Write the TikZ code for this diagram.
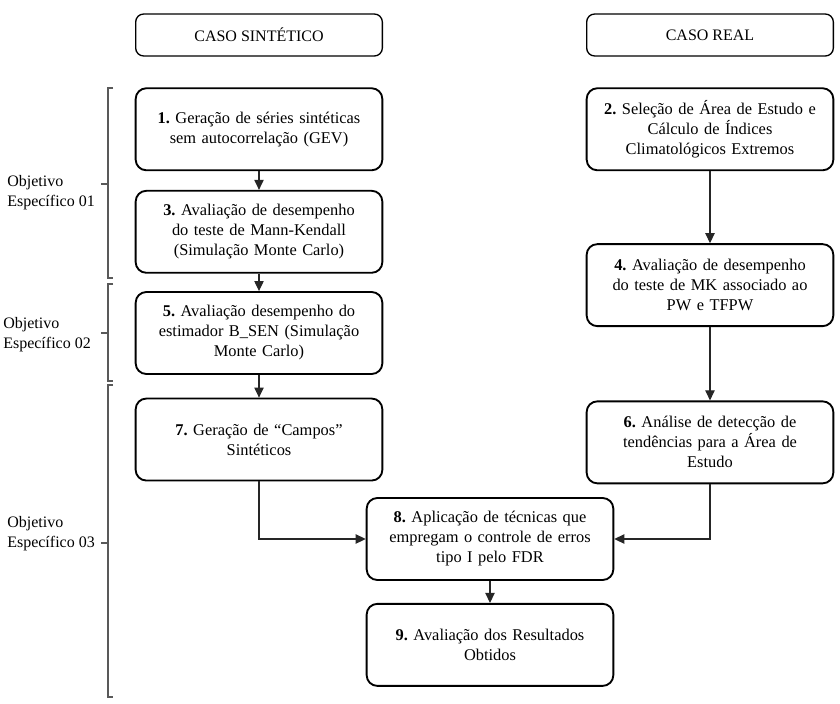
\documentclass[tikz,border=0pt]{standalone}
\usepackage{fontspec}
\setmainfont{Liberation Serif}
\usetikzlibrary{arrows.meta,positioning,calc}
\frenchspacing

\begin{document}
\begin{tikzpicture}[x=0.75pt, y=-0.75pt,
    caso/.style={rectangle, rounded corners=6pt, draw=black, line width=1pt, minimum width=185pt, minimum height=31.5pt, align=center, font=\fontsize{12}{15}\selectfont},
    etapa/.style={rectangle, rounded corners=8pt, draw=black, line width=1.4pt, text width=178pt, minimum width=185pt, minimum height=61.5pt, inner sep=3pt, align=center, font=\fontsize{12.3}{15}\selectfont},
    seta/.style={-{Triangle[length=7.5pt,width=7pt]}, line width=0.8pt, draw=black!85},
    chave/.style={draw=black!65, line width=0.8pt},
    objetivo/.style={anchor=west, align=left, inner sep=0pt, font=\fontsize{12}{15}\selectfont}
]
\useasboundingbox (0,0) rectangle (840,704);

% cabecalhos
\node[caso] (sint) at (259,35) {CASO SINTÉTICO};
\node[caso] (real) at (710,35) {CASO REAL};

% caso sintetico
\node[etapa, below=23pt of sint] (e1) {\textbf{1.} Geração de séries sintéticas\\sem autocorrelação (GEV)};
\node[etapa, below=14pt of e1] (e3) {\textbf{3.} Avaliação de desempenho\\do teste de Mann-Kendall\\(Simulação Monte Carlo)};
\node[etapa, below=13pt of e3] (e5) {\textbf{5.} Avaliação desempenho do\\estimador B\_SEN (Simulação\\Monte Carlo)};
\node[etapa, below=17pt of e5] (e7) {\textbf{7.} Geração de “Campos”\\Sintéticos};

% caso real
\node[etapa, below=23pt of real] (e2) {\textbf{2.} Seleção de Área de Estudo e\\Cálculo de Índices\\Climatológicos Extremos};
\node[etapa, below=54pt of e2] (e4) {\textbf{4.} Avaliação de desempenho\\do teste de MK associado ao\\PW e TFPW};
\node[etapa, below=55pt of e4] (e6) {\textbf{6.} Análise de detecção de\\tendências para a Área de\\Estudo};

% etapas finais
\node[etapa] (e8) at (490,539) {\textbf{8.} Aplicação de técnicas que\\empregam o controle de erros\\tipo I pelo FDR};
\node[etapa, below=16.5pt of e8] (e9) {\textbf{9.} Avaliação dos Resultados\\Obtidos};

\draw[seta] (e1) -- (e3);
\draw[seta] (e3) -- (e5);
\draw[seta] (e5) -- (e7);
\draw[seta] (e2) -- (e4);
\draw[seta] (e4) -- (e6);
\draw[seta] (e7.south) |- (e8.west);
\draw[seta] (e6.south) |- (e8.east);
\draw[seta] (e8) -- (e9);

% objetivos especificos
\draw[chave] (113,88) -- (108,88) -- (108,278) -- (113,278) (108,184) -- (101,184);
\draw[chave] (113,284) -- (108,284) -- (108,381) -- (113,381) (108,333) -- (101,333);
\draw[chave] (113,385) -- (108,385) -- (108,697) -- (113,697) (108,543) -- (101,543);
\node[objetivo] (o1) at (7,193) {Objetivo\\Específico 01};
\node[objetivo] (o2) at (3,335) {Objetivo\\Específico 02};
\node[objetivo] (o3) at (7,534) {Objetivo\\Específico 03};
\end{tikzpicture}
\end{document}
